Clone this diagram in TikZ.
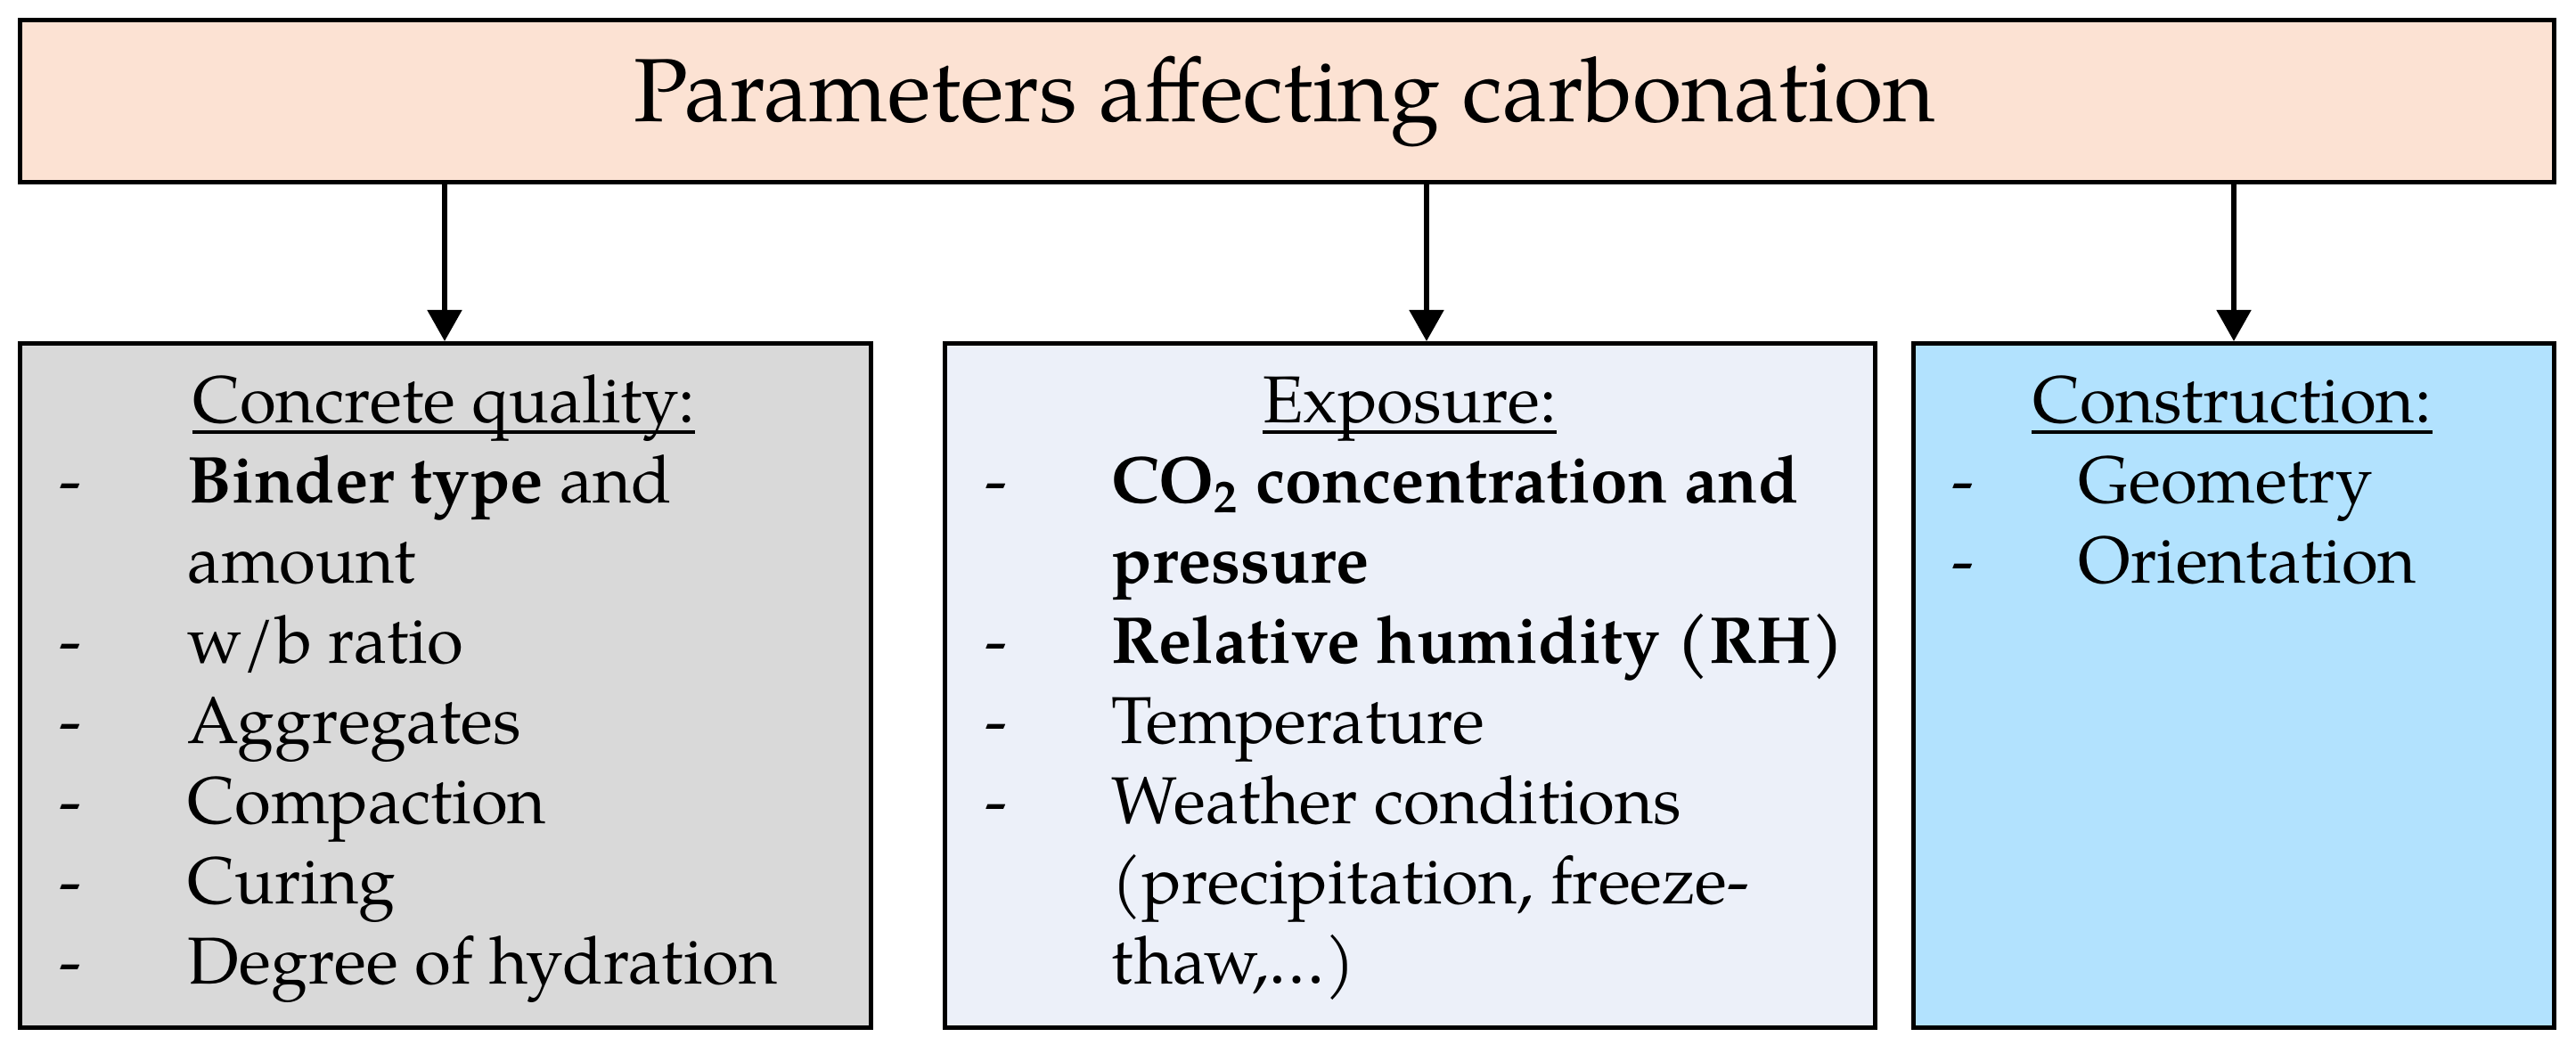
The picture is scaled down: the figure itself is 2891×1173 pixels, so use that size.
\documentclass[tikz,border=0pt]{standalone}
\usepackage{fontspec}
\setmainfont{texgyrepagella}[Extension=.otf, UprightFont=*-regular, BoldFont=*-bold, ItalicFont=*-italic, BoldItalicFont=*-bolditalic]
\usetikzlibrary{arrows.meta}
\definecolor{peach}{HTML}{FCE2D3}
\definecolor{greybox}{HTML}{D9D9D9}
\definecolor{paleblue}{HTML}{ECF0F9}
\definecolor{skyblue}{HTML}{B2E2FE}
\begin{document}
\begin{tikzpicture}[x=0.25pt,y=-0.25pt,
  box/.style={draw=black, line width=1.25pt, rectangle, inner sep=0pt, anchor=north west, minimum height=192pt},
  txt/.style={anchor=base west, inner sep=0pt, font=\fontsize{18.6}{22.5}\selectfont},
  hd/.style={anchor=base, inner sep=0pt, font=\fontsize{18.6}{22.5}\selectfont},
  ul/.style={line width=1pt},
  arr/.style={-{Triangle[length=8.75pt,width=9.5pt]}, line width=1.3pt}]
\useasboundingbox (0,0) rectangle (2891,1173);

% boxes
\node[box, fill=peach, minimum width=711pt, minimum height=45.5pt] (top) at (20,20) {};
\node[anchor=base, inner sep=0pt, font=\fontsize{25.2}{30}\selectfont] (title) at (1442,137) {Parameters affecting carbonation};
\node[box, fill=greybox, minimum width=238.75pt] (quality) at (20,383) {};
\node[box, fill=paleblue, minimum width=261pt] (exposure) at (1058,383) {};
\node[box, fill=skyblue, minimum width=179.75pt] (construction) at (2145,383) {};

% arrows
\coordinate (xa) at (499,0);
\coordinate (xb) at (1601,0);
\coordinate (xc) at (2507,0);
\draw[arr] (top.south -| xa) -- (quality.north -| xa);
\draw[arr] (top.south -| xb) -- (exposure.north -| xb);
\draw[arr] (top.south -| xc) -- (construction.north -| xc);

% Concrete quality
\node[hd] (h1) at (498,475) {Concrete quality:};
\draw[ul] ([yshift=-2.5pt]h1.base west) -- ([yshift=-2.5pt]h1.base east);
\node[txt] (d11) at (66,565) {-};
\node[txt] (t11) at (210,565) {\textbf{Binder type} and};
\node[txt] (t11b) at (210,655) {amount};
\node[txt] (d12) at (66,745) {-};
\node[txt] (t12) at (210,745) {w/b ratio};
\node[txt] (d13) at (66,835) {-};
\node[txt] (t13) at (210,835) {Aggregates};
\node[txt] (d14) at (66,925) {-};
\node[txt] (t14) at (210,925) {Compaction};
\node[txt] (d15) at (66,1015) {-};
\node[txt] (t15) at (210,1015) {Curing};
\node[txt] (d16) at (66,1105) {-};
\node[txt] (t16) at (210,1105) {Degree of hydration};

% Exposure
\node[hd] (h2) at (1582,475) {Exposure:};
\draw[ul] ([yshift=-2.5pt]h2.base west) -- ([yshift=-2.5pt]h2.base east);
\node[txt] (d21) at (1105,565) {-};
\node[txt] (t21) at (1247,565) {\textbf{CO\textsubscript{2} concentration and}};
\node[txt] (t21b) at (1247,655) {\textbf{pressure}};
\node[txt] (d22) at (1105,745) {-};
\node[txt] (t22) at (1247,745) {\textbf{Relative humidity (RH)}};
\node[txt] (d23) at (1105,835) {-};
\node[txt] (t23) at (1247,835) {Temperature};
\node[txt] (d24) at (1105,925) {-};
\node[txt] (t24) at (1247,925) {Weather conditions};
\node[txt] (t24b) at (1247,1015) {(precipitation, freeze-};
\node[txt] (t24c) at (1247,1105) {thaw,\ldots)};

% Construction
\node[hd] (h3) at (2505,475) {Construction:};
\draw[ul] ([yshift=-2.5pt]h3.base west) -- ([yshift=-2.5pt]h3.base east);
\node[txt] (d31) at (2190,565) {-};
\node[txt] (t31) at (2332,565) {Geometry};
\node[txt] (d32) at (2190,655) {-};
\node[txt] (t32) at (2332,655) {Orientation};
\end{tikzpicture}
\end{document}
